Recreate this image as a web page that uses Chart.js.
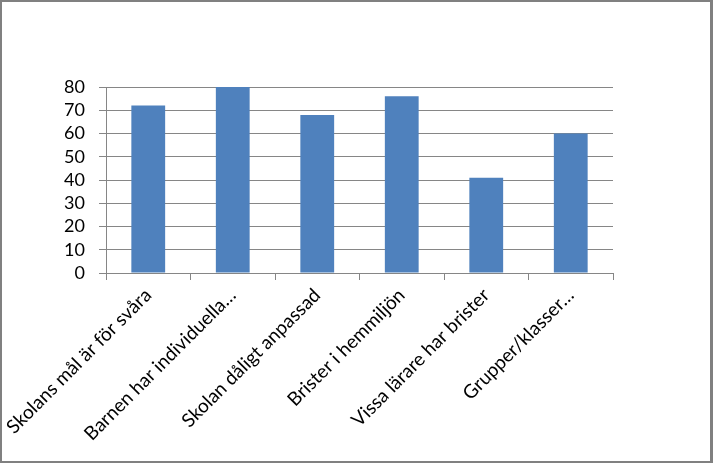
<!DOCTYPE html>
<html>
<head>
<meta charset="utf-8">
<script src="https://cdn.jsdelivr.net/npm/chart.js@4"></script>
<style>
  html, body { margin: 0; padding: 0; background: #fff; }
  #wrap { position: relative; width: 713px; height: 463px; }
  #frame {
    position: absolute; left: 0; top: 0; width: 713px; height: 463px;
    box-sizing: border-box; border: 2px solid #808080; border-right-width: 3px;
    pointer-events: none;
  }
</style>
</head>
<body>
<div id="wrap">
  <canvas id="chart" width="713" height="463"></canvas>
  <div id="frame"></div>
</div>
<script>
const categories = [
  "Skolans mål är för svåra",
  "Barnen har individuella…",
  "Skolan dåligt anpassad",
  "Brister i hemmiljön",
  "Vissa lärare har brister",
  "Grupper/klasser…"
];
const values = [72, 80, 68, 76, 41, 60];
const yTicks = [0, 10, 20, 30, 40, 50, 60, 70, 80];

const gridGray = "#868686";

new Chart(document.getElementById("chart"), {
  type: "bar",
  data: {
    labels: categories,
    datasets: [{
      data: values,
      backgroundColor: "#4F81BD",
      categoryPercentage: 0.4,
      barPercentage: 1.0
    }]
  },
  options: {
    responsive: false,
    animation: false,
    layout: { padding: { top: 87, right: 100, bottom: 0, left: 0 } },
    plugins: { legend: { display: false }, tooltip: { enabled: false } },
    scales: {
      y: {
        min: 0,
        max: 80,
        afterFit: s => { s.width = 106; s.paddingTop = 0; s.paddingBottom = 0; },
        afterBuildTicks: s => { s.ticks = yTicks.map(v => ({ value: v })); },
        ticks: { color: "#000", font: { family: "Lato", size: 18 }, padding: 14, autoSkip: false },
        grid: { color: gridGray, tickLength: 7 },
        border: { color: gridGray }
      },
      x: {
        afterFit: s => { s.height = 190; s.paddingLeft = 0; s.paddingRight = 0; },
        ticks: { color: "#000", font: { family: "Lato", size: 19 }, minRotation: 45, maxRotation: 45, padding: 4, autoSkip: false },
        grid: { color: gridGray, drawOnChartArea: false, tickLength: 7, offset: true },
        border: { color: gridGray }
      }
    }
  }
});
</script>
</body>
</html>
